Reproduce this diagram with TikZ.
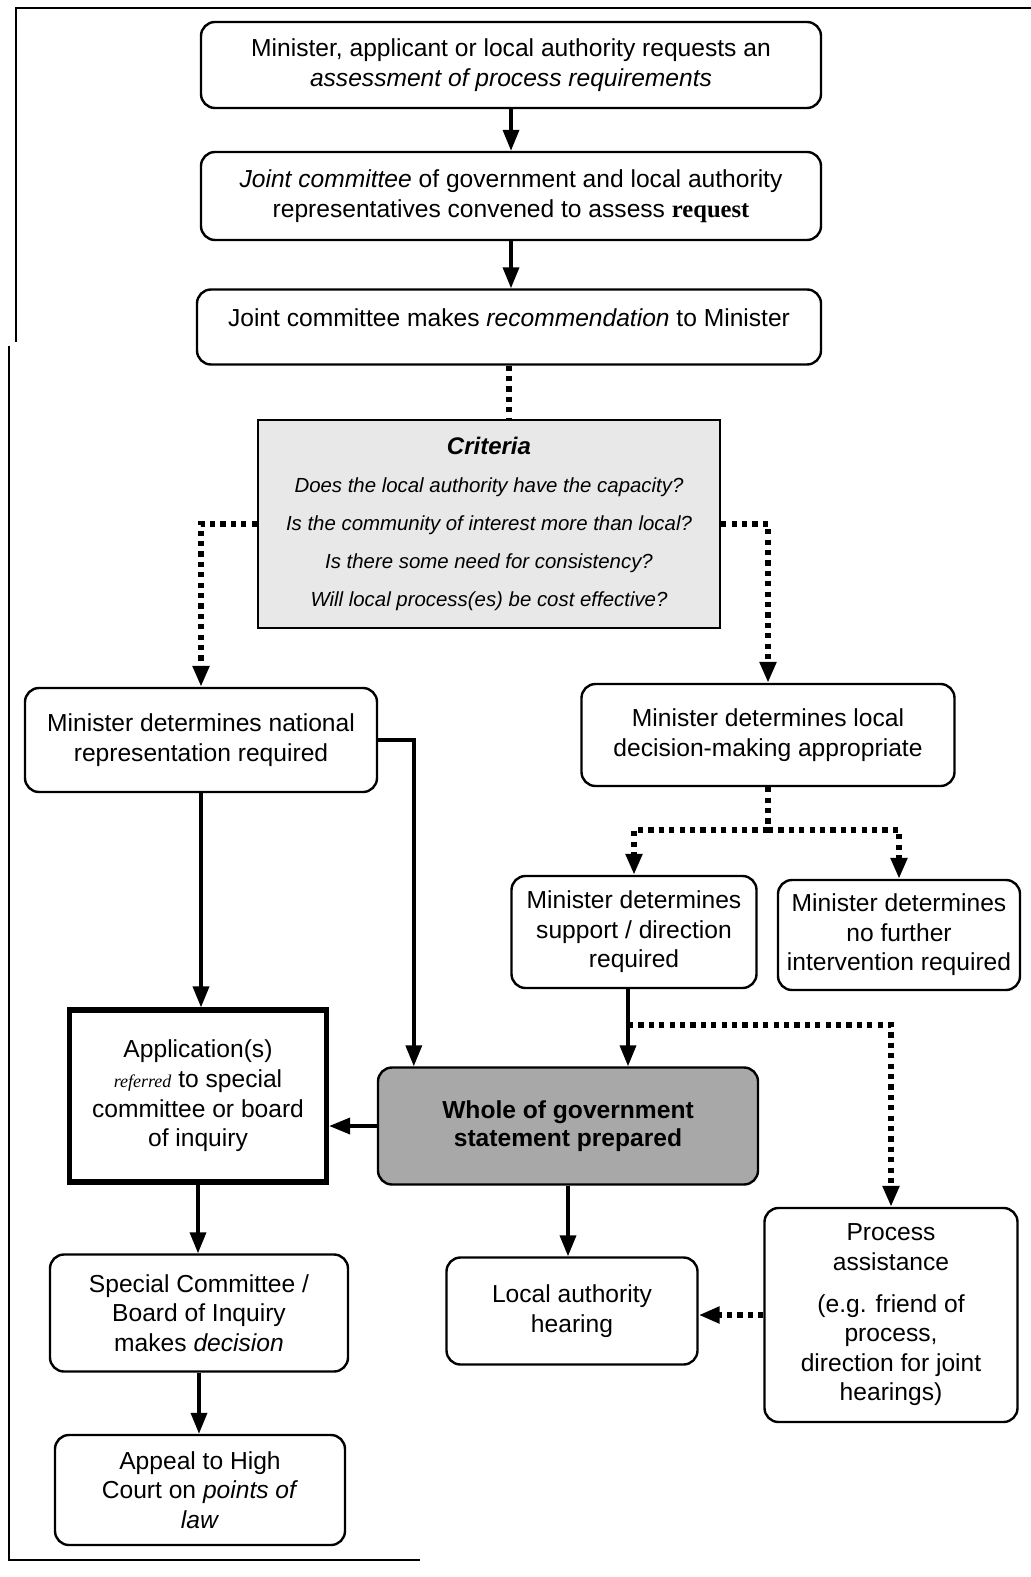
\documentclass[tikz,border=0pt]{standalone}
\usepackage{fontspec}
\setmainfont{Liberation Sans}
\newfontfamily\seriffam{Liberation Serif}
\usetikzlibrary{arrows.meta,calc}
\begin{document}
\begin{tikzpicture}[x=0.5pt,y=-0.5pt,
  every node/.style={font=\fontsize{12.3}{14.8}\selectfont, align=center, inner sep=2pt},
  rbox/.style={draw, line width=1.2pt, rounded corners=7pt},
  sbox/.style={draw, line width=2.6pt},
  tip/.style={-{Triangle[width=8pt,length=10.5pt]}},
  solidline/.style={line width=1.8pt},
  dotline/.style={line width=2.6pt, dash pattern=on 2.6pt off 2.6pt}
]
\useasboundingbox (0,0) rectangle (1031,1577);
% outer frame
\draw[line width=1.2pt] (1031,8) -- (16,8) -- (16,342);
\draw[line width=1.2pt] (9,346) -- (9,1560) -- (420,1560);

\node[rbox, minimum width=310pt, minimum height=43pt] (b1) at (511,65)
  {Minister, applicant or local authority requests an\\ \textit{assessment of process requirements}};
\node[rbox, minimum width=310pt, minimum height=44pt] (b2) at (511,196)
  {\textit{Joint committee} of government and local authority\\ representatives convened to assess {\seriffam\bfseries request}};
\node[rbox, minimum width=312pt, minimum height=37.5pt] (b3) at (509,327)
  {Joint committee makes \textit{recommendation} to Minister\\[-5pt] \mbox{}};
\node[draw, line width=1.2pt, fill=gray!18, minimum width=231pt, minimum height=104pt,
  font=\fontsize{10.2}{19}\selectfont\itshape] (crit) at (489,524)
  {{\fontsize{12}{14}\selectfont\bfseries Criteria}\\
   Does the local authority have the capacity?\\
   Is the community of interest more than local?\\
   Is there some need for consistency?\\
   Will local process(es) be cost effective?};
\node[rbox, minimum width=176pt, minimum height=52pt] (nat) at (201,740)
  {Minister determines national\\ representation required};
\node[rbox, minimum width=186.5pt, minimum height=51pt] (loc) at (768,735)
  {Minister determines local\\ decision-making appropriate};
\node[rbox, minimum width=122.5pt, minimum height=56pt] (sup) at (634,932)
  {Minister determines\\ support / direction\\ required};
\node[rbox, minimum width=121pt, minimum height=55pt] (nof) at (899,935)
  {Minister determines\\ no further\\ intervention required};
\node[sbox, minimum width=128.5pt, minimum height=86pt] (app) at (198,1096)
  {Application(s)\\ {\seriffam\itshape\small referred} to special\\ committee or board\\ of inquiry};
\node[rbox, fill=gray!68, minimum width=190pt, minimum height=58.5pt, font=\fontsize{12.3}{14}\selectfont\bfseries] (wog) at (568,1126)
  {Whole of government\\ statement prepared};
\node[rbox, minimum width=149pt, minimum height=58.5pt] (spc) at (199,1313)
  {Special Committee /\\ Board of Inquiry\\ makes \textit{decision}};
\node[rbox, minimum width=145pt, minimum height=55pt] (apl) at (200,1490)
  {Appeal to High\\ Court on \textit{points of}\\ \textit{law}};
\node[rbox, minimum width=125.5pt, minimum height=53.5pt] (lah) at (572,1311)
  {Local authority\\ hearing};
\node[rbox, minimum width=126.5pt, minimum height=107pt] (pra) at (891,1315)
  {Process\\ assistance\\[6pt] (e.g. friend of\\ process,\\ direction for joint\\ hearings)};

% connectors
\draw[solidline, tip] (b1.south) -- (b1.south |- b2.north);
\draw[solidline, tip] (b2.south) -- (b2.south |- b3.north);
\draw[dotline] (b3.south) -- (b3.south |- crit.north);
\draw[dotline, tip] (crit.west) -| (nat.north);
\draw[dotline, tip] (crit.east) -| (loc.north);
\draw[solidline, tip] (nat.south) -- (nat.south |- app.north);
\draw[solidline, tip] (nat.east) -| ([xshift=18.5pt]wog.north west);
\coordinate (split) at (768,830);
\draw[dotline] (loc.south) -- (split);
\draw[dotline, tip] (split) -| (sup.north);
\draw[dotline, tip] (split) -| (nof.north);
\draw[solidline, tip] ([xshift=-3pt]sup.south) -- ([xshift=-3pt]sup.south |- wog.north);
\coordinate (br) at (628,1025);
\draw[dotline, tip] (br) -| (pra.north);
\draw[solidline, tip] (wog.west) -- (wog.west -| app.east);
\draw[solidline, tip] (app.south) -- (app.south |- spc.north);
\draw[solidline, tip] (spc.south) -- (spc.south |- apl.north);
\draw[solidline, tip] (wog.south) -- (wog.south |- lah.north);
\draw[dotline, tip] (pra.west) -- (pra.west -| lah.east);
\end{tikzpicture}
\end{document}
